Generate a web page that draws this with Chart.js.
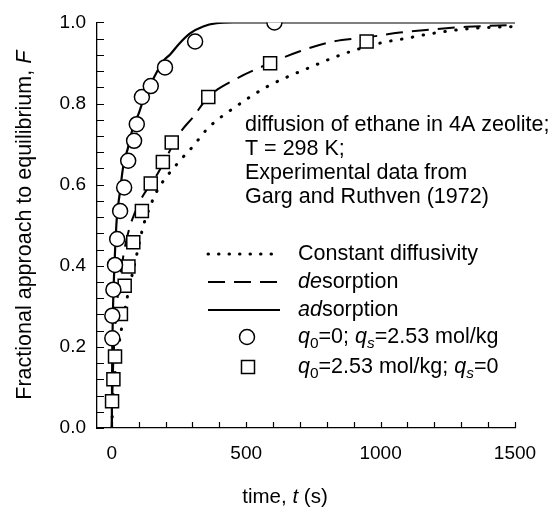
<!DOCTYPE html>
<html>
<head>
<meta charset="utf-8">
<script src="https://cdn.jsdelivr.net/npm/chart.js@4"></script>
<style>
  body { margin: 0; background: #fff; }
  canvas { display: block; }
</style>
</head>
<body>
<canvas id="uptake-chart" width="560" height="516"></canvas>
<script>
// experimental points (Garg and Ruthven 1972)
const adsTime = [2, 2, 6, 12, 20, 31, 46, 61, 83, 93, 112, 145, 198, 310, 605];
const adsFrac = [0.221, 0.277, 0.341, 0.402, 0.466, 0.535, 0.593, 0.659, 0.708, 0.749, 0.816, 0.843, 0.889, 0.953, 1.0];
const desTime = [1, 6, 12, 34, 48, 62, 80, 112, 145, 190, 223, 359, 589, 948];
const desFrac = [0.066, 0.120, 0.176, 0.281, 0.351, 0.398, 0.458, 0.535, 0.603, 0.656, 0.704, 0.816, 0.899, 0.953];

// model curves
const constCurveT = [0, 5, 15, 35, 60, 87, 118, 142, 167, 248, 304, 353, 409, 452, 514, 576, 651, 737, 824, 911, 998, 1097, 1195, 1320, 1500];
const constCurveF = [0, 0.08, 0.15, 0.24, 0.33, 0.41, 0.5, 0.545, 0.583, 0.655, 0.696, 0.736, 0.768, 0.788, 0.816, 0.841, 0.865, 0.889, 0.913, 0.933, 0.949, 0.961, 0.973, 0.984, 0.99];
const desCurveT = [0, 2, 5, 10, 20, 35, 50, 68, 105, 167, 254, 304, 359, 452, 552, 700, 824, 948, 1072, 1195, 1320, 1500];
const desCurveF = [0, 0.08, 0.15, 0.22, 0.31, 0.39, 0.45, 0.498, 0.559, 0.623, 0.728, 0.768, 0.816, 0.857, 0.889, 0.929, 0.953, 0.963, 0.975, 0.983, 0.989, 0.994];
const adsCurveT = [0, 1, 2, 4, 8, 13, 19, 30, 43, 60, 80, 100, 118, 150, 192, 217, 250, 291, 340, 390, 452, 1500];
const adsCurveF = [0, 0.12, 0.2, 0.28, 0.37, 0.45, 0.52, 0.58, 0.647, 0.69, 0.744, 0.775, 0.81, 0.855, 0.905, 0.921, 0.947, 0.973, 0.99, 0.998, 1.0, 1.0];

const xTicks = [0, 500, 1000, 1500];
const yTicks = [0, 0.2, 0.4, 0.6, 0.8, 1.0];
const xMinorStep = 100;
const yMinorStep = 0.04;

const FONT = 'Liberation Sans, Arial, sans-serif';
const TEXT_SIZE = 21.5;

function pts(xs, ys) {
  return xs.map((x, i) => ({ x: x, y: ys[i] }));
}

function drawRich(ctx, parts, x, y, size, align) {
  const fontFor = p => (p.i ? 'italic ' : '') + (p.sub ? size * 0.72 : size) + 'px ' + FONT;
  let total = 0;
  parts.forEach(p => { ctx.font = fontFor(p); total += ctx.measureText(p.t).width; });
  let cx = align === 'center' ? x - total / 2 : x;
  ctx.textAlign = 'left';
  ctx.textBaseline = 'middle';
  parts.forEach(p => {
    ctx.font = fontFor(p);
    ctx.fillText(p.t, cx, p.sub ? y + size * 0.3 : y);
    cx += ctx.measureText(p.t).width;
  });
}

const decorations = {
  id: 'decorations',
  afterDraw(chart) {
    const ctx = chart.ctx;
    const xs = chart.scales.x, ys = chart.scales.y;
    const area = chart.chartArea;
    ctx.save();
    ctx.strokeStyle = '#000';
    ctx.fillStyle = '#000';
    ctx.lineWidth = 1.2;

    // inward ticks
    ctx.beginPath();
    for (let v = 0; v <= 1500 + 0.1; v += xMinorStep) {
      const px = Math.round(xs.getPixelForValue(v)) + 0.5;
      ctx.moveTo(px, area.bottom);
      ctx.lineTo(px, area.bottom - 6);
    }
    for (let v = 0; v <= 1.0001; v += yMinorStep) {
      const py = Math.round(ys.getPixelForValue(v)) + 0.5;
      ctx.moveTo(area.left, py);
      ctx.lineTo(area.left + 7, py);
    }
    ctx.stroke();

    // axis titles
    drawRich(ctx, [{ t: 'time, ' }, { t: 't', i: true }, { t: ' (s)' }], 285, 497, 20.5, 'center');
    ctx.save();
    ctx.translate(25, (area.top + area.bottom) / 2);
    ctx.rotate(-Math.PI / 2);
    drawRich(ctx, [{ t: 'Fractional approach to equilibrium, ' }, { t: 'F', i: true }], 0, 0, 21.5, 'center');
    ctx.restore();

    // annotation
    const note = ['diffusion of ethane in 4A zeolite;', 'T = 298 K;', 'Experimental data from', 'Garg and Ruthven (1972)'];
    note.forEach((line, i) => drawRich(ctx, [{ t: line }], 245, 125 + i * 24, TEXT_SIZE, 'left'));

    // legend
    const lx0 = 208, lx1 = 280, tx = 298;
    const rows = [254, 282, 310, 337, 367];
    ctx.lineCap = 'round';
    ctx.lineWidth = 3;
    ctx.setLineDash([0.5, 10]);
    ctx.beginPath(); ctx.moveTo(lx0, rows[0]); ctx.lineTo(lx1, rows[0]); ctx.stroke();
    ctx.lineCap = 'butt';
    ctx.lineWidth = 2;
    ctx.setLineDash([17, 9]);
    ctx.beginPath(); ctx.moveTo(lx0, rows[1]); ctx.lineTo(lx1, rows[1]); ctx.stroke();
    ctx.setLineDash([]);
    ctx.beginPath(); ctx.moveTo(lx0, rows[2]); ctx.lineTo(lx1, rows[2]); ctx.stroke();
    ctx.lineWidth = 1.5;
    ctx.fillStyle = '#fff';
    ctx.beginPath(); ctx.arc(247, rows[3], 7.5, 0, Math.PI * 2); ctx.fill(); ctx.stroke();
    ctx.beginPath(); ctx.rect(241.5, rows[4] - 6.5, 13, 13); ctx.fill(); ctx.stroke();
    ctx.fillStyle = '#000';

    drawRich(ctx, [{ t: 'Constant diffusivity' }], tx, rows[0], TEXT_SIZE, 'left');
    drawRich(ctx, [{ t: 'de', i: true }, { t: 'sorption' }], tx, rows[1], TEXT_SIZE, 'left');
    drawRich(ctx, [{ t: 'ad', i: true }, { t: 'sorption' }], tx, rows[2], TEXT_SIZE, 'left');
    drawRich(ctx, [{ t: 'q', i: true }, { t: '0', sub: true }, { t: '=0; ' }, { t: 'q', i: true }, { t: 's', sub: true, i: true }, { t: '=2.53 mol/kg' }], tx, rows[3], TEXT_SIZE, 'left');
    drawRich(ctx, [{ t: 'q', i: true }, { t: '0', sub: true }, { t: '=2.53 mol/kg; ' }, { t: 'q', i: true }, { t: 's', sub: true, i: true }, { t: '=0' }], tx, rows[4], TEXT_SIZE, 'left');
    ctx.restore();
  }
};

const ctx = document.getElementById('uptake-chart').getContext('2d');

window.chart = new Chart(ctx, {
  type: 'scatter',
  data: {
    datasets: [
      {
        label: 'q0=0; qs=2.53 mol/kg',
        data: pts(adsTime, adsFrac),
        pointStyle: 'circle',
        pointRadius: 7.5,
        pointBackgroundColor: '#fff',
        pointBorderColor: '#000',
        pointBorderWidth: 1.5,
        order: 0
      },
      {
        label: 'q0=2.53 mol/kg; qs=0',
        data: pts(desTime, desFrac),
        pointStyle: 'rect',
        pointRadius: 9.2,
        pointBackgroundColor: '#fff',
        pointBorderColor: '#000',
        pointBorderWidth: 1.5,
        order: 0
      },
      {
        label: 'Constant diffusivity',
        data: pts(constCurveT, constCurveF),
        showLine: true,
        pointRadius: 0,
        borderColor: '#000',
        borderWidth: 3,
        borderDash: [0.5, 10.5],
        borderCapStyle: 'round',
        cubicInterpolationMode: 'monotone',
        order: 1
      },
      {
        label: 'desorption',
        data: pts(desCurveT, desCurveF),
        showLine: true,
        pointRadius: 0,
        borderColor: '#000',
        borderWidth: 2,
        borderDash: [17, 9],
        cubicInterpolationMode: 'monotone',
        order: 1
      },
      {
        label: 'adsorption',
        data: pts(adsCurveT, adsCurveF),
        showLine: true,
        pointRadius: 0,
        borderColor: '#000',
        borderWidth: 2.2,
        cubicInterpolationMode: 'monotone',
        order: 1
      }
    ]
  },
  options: {
    responsive: false,
    animation: false,
    layout: { padding: { left: 0, right: 45, top: 14, bottom: 0 } },
    plugins: {
      legend: { display: false },
      tooltip: { enabled: false }
    },
    scales: {
      x: {
        type: 'linear',
        min: -55,
        max: 1500,
        grid: { display: false, drawTicks: false },
        border: { display: true, color: '#000', width: 1.3 },
        afterBuildTicks: s => { s.ticks = xTicks.map(v => ({ value: v })); },
        afterFit: s => { s.height = 88; },
        ticks: {
          color: '#000',
          padding: 14,
          font: { family: FONT, size: 19 },
          maxRotation: 0,
          callback: v => String(v)
        }
      },
      y: {
        type: 'linear',
        min: 0,
        max: 1.0,
        grid: { display: false, drawTicks: false },
        border: { display: true, color: '#000', width: 1.3 },
        afterBuildTicks: s => { s.ticks = yTicks.map(v => ({ value: v })); },
        afterFit: s => { s.width = 97; },
        ticks: {
          color: '#000',
          padding: 11,
          font: { family: FONT, size: 19 },
          callback: v => v.toFixed(1)
        }
      }
    }
  },
  plugins: [decorations]
});
</script>
</body>
</html>
